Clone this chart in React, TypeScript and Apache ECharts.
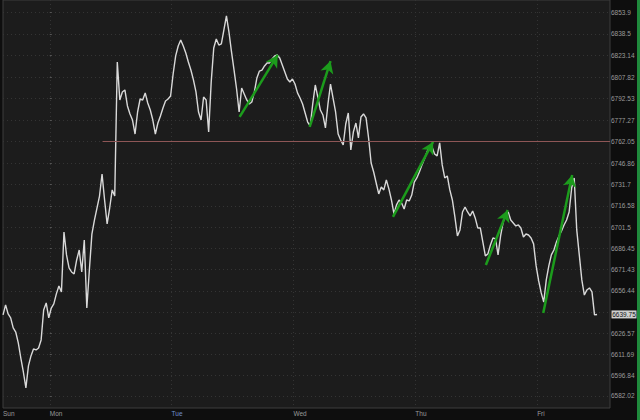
import React, { useEffect, useRef } from "react";
import * as echarts from "echarts";

// time in hours from Monday 00:00, sampled every half hour starting Sunday session open
const startHour = -9.2;
const stepHours = 0.5;
const prices = [
  6639.4, 6646.5, 6640.1, 6637.3, 6630.2, 6627.3, 6619.6, 6608.9, 6599.0, 6587.7,
  6603.3, 6610.4, 6615.3, 6614.6, 6616.0, 6621.7, 6642.9, 6647.9, 6637.3, 6644.3,
  6647.2, 6654.3, 6659.9, 6655.7, 6698.1, 6681.9, 6672.7, 6669.8, 6668.4, 6678.3,
  6685.4, 6669.8, 6692.5, 6644.3, 6671.2, 6696.7, 6706.6, 6715.1, 6723.6, 6739.2,
  6720.8, 6703.8, 6715.1, 6727.9, 6723.6, 6818.5, 6791.6, 6797.3, 6798.7, 6787.4,
  6781.7, 6777.4, 6767.5, 6783.1, 6792.3, 6791.6, 6796.6, 6789.5, 6784.5, 6777.4,
  6767.5, 6775.3, 6780.3, 6785.9, 6790.9, 6792.3, 6794.4, 6810.0, 6822.8, 6829.8,
  6834.1, 6829.8, 6824.9, 6818.5, 6812.8, 6805.8, 6797.3, 6783.1, 6777.4, 6793.7,
  6791.6, 6768.9, 6804.3, 6828.4, 6834.8, 6830.5, 6831.3, 6841.2, 6851.1, 6839.7,
  6825.6, 6812.8, 6799.4, 6783.1, 6800.1, 6795.9, 6791.6, 6788.8, 6790.2, 6797.3,
  6807.2, 6812.1, 6812.8, 6815.7, 6817.8, 6817.8, 6820.6, 6822.8, 6823.5, 6821.3,
  6816.4, 6811.4, 6806.5, 6804.3, 6806.5, 6802.9, 6796.6, 6793.0, 6788.8, 6782.4,
  6776.0, 6773.2, 6788.8, 6802.2, 6793.7, 6784.5, 6781.0, 6771.8, 6788.8, 6802.9,
  6793.0, 6783.1, 6767.5, 6763.3, 6759.7, 6774.6, 6782.4, 6756.2, 6768.9, 6775.3,
  6764.7, 6779.6, 6781.7, 6778.9, 6764.7, 6747.0, 6740.6, 6732.8, 6725.1, 6730.0,
  6727.9, 6735.0, 6728.6, 6720.8, 6710.9, 6717.3, 6720.8, 6718.7, 6714.4, 6720.8,
  6720.1, 6724.3, 6733.5, 6736.4, 6740.6, 6745.6, 6749.8, 6754.8, 6759.0, 6758.3,
  6753.4, 6752.0, 6761.2, 6745.6, 6736.4, 6737.8, 6727.9, 6720.8, 6708.8, 6695.3,
  6699.6, 6712.3, 6715.8, 6712.3, 6709.5, 6713.0, 6708.1, 6701.0, 6701.0, 6691.1,
  6681.2, 6682.6, 6688.9, 6693.9, 6693.2, 6681.9, 6695.3, 6705.2, 6709.5, 6712.3,
  6706.6, 6704.5, 6702.4, 6703.1, 6701.0, 6694.6, 6696.7, 6696.0, 6693.9, 6689.7,
  6674.1, 6663.5, 6655.0, 6648.6, 6664.2, 6674.1, 6681.9, 6685.4, 6691.1, 6695.3,
  6698.9, 6703.1, 6706.6, 6712.3, 6729.3, 6736.4, 6699.6, 6681.9, 6664.2, 6653.5,
  6657.1, 6658.5, 6655.7, 6639.4, 6639.75,
];

const yTickValues = [
  6582.02, 6596.84, 6611.69, 6626.57, 6641.5, 6656.44, 6671.43, 6686.45, 6701.5,
  6716.58, 6731.7, 6746.86, 6762.05, 6777.27, 6792.53, 6807.82, 6823.14, 6838.5, 6853.9,
];
const yTickLabels = [
  "6582.02", "6596.84", "6611.69", "6626.57", "", "6656.44", "6671.43", "6686.45", "6701.5",
  "6716.58", "6731.7", "6746.86", "6762.05", "6777.27", "6792.53", "6807.82", "6823.14", "6838.5", "6853.9",
];
const dayTicks = [-9.21, 0, 24, 48, 72, 96];
const dayLabels = ["Sun", "Mon", "Tue", "Wed", "Thu", "Fri"];

// green trend arrows: [startHour, startPrice, endHour, endPrice]
const arrows = [
  [37.4, 6779.6, 44.9, 6823.5],
  [51.2, 6772.5, 55.3, 6819.2],
  [67.6, 6708.8, 75.5, 6761.9],
  [85.9, 6674.8, 90.2, 6713.7],
  [97.2, 6640.8, 102.9, 6738.5],
];
const levelPrice = 6762.6;
const levelStartHour = 10.4;
const lastHour = startHour + (prices.length - 1) * stepHours;
const lastPrice = 6639.75;

const xMin = -9.21;
const xMax = 110.35;
const yMin = 6573.5;
const yMax = 6862.4;

export default function App() {
  const ref = useRef<HTMLDivElement>(null);
  useEffect(() => {
    if (!ref.current) return;
    const chart = echarts.init(ref.current, null, { renderer: "svg" });
    const lineData = prices.map((p, i) => [startHour + i * stepHours, p]);
    const labelFont = { fontFamily: "Liberation Sans, Arial, sans-serif", fontSize: 6.5 };
    chart.setOption({
      animation: false,
      backgroundColor: "#0e0e0e",
      grid: {
        left: 0,
        top: 0,
        right: 30,
        bottom: 12,
        show: true,
        backgroundColor: "#1c1c1c",
        borderColor: "#3c3c3c",
        borderWidth: 1,
      },
      xAxis: {
        type: "value",
        min: xMin,
        max: xMax,
        axisLine: { show: false },
        axisTick: { show: false, customValues: [0, 24, 48, 72, 96] },
        splitLine: { show: true, lineStyle: { color: "#343434", type: [1, 3], width: 1 } },
        axisLabel: {
          customValues: dayTicks,
          showMinLabel: true,
          showMaxLabel: true,
          hideOverlap: false,
          align: "left",
          margin: 2,
          color: "#9a9a9a",
          ...labelFont,
          formatter: (v: number) => {
            let best = 0;
            dayTicks.forEach((d, i) => {
              if (Math.abs(d - v) < Math.abs(dayTicks[best] - v)) best = i;
            });
            const t = dayLabels[best];
            return t === "Tue" ? "{b|Tue}" : t;
          },
          rich: { b: { color: "#6f8fd0", ...labelFont } },
        },
      },
      yAxis: {
        type: "value",
        position: "right",
        min: yMin,
        max: yMax,
        axisLine: { show: false },
        axisTick: { show: true, length: 2, customValues: yTickValues, lineStyle: { color: "#555" } },
        splitLine: { show: true, lineStyle: { color: "#343434", type: [1, 3], width: 1 } },
        axisLabel: {
          customValues: yTickValues,
          margin: 1,
          color: "#9a9a9a",
          ...labelFont,
          formatter: (v: number) => {
            let best = 0;
            yTickValues.forEach((d, i) => {
              if (Math.abs(d - v) < Math.abs(yTickValues[best] - v)) best = i;
            });
            return yTickLabels[best];
          },
        },
      },
      series: [
        {
          type: "line",
          data: lineData,
          showSymbol: false,
          symbol: "none",
          lineStyle: { color: "#d9d9d9", width: 1.4 },
          z: 3,
          markLine: {
            silent: true,
            symbol: ["none", "arrow"],
            symbolSize: [10, 12],
            label: { show: false },
            lineStyle: { color: "#1c9c1c", width: 2.5, type: "solid" },
            data: arrows.map((a) => [{ coord: [a[0], a[1]] }, { coord: [a[2], a[3]] }]),
            z: 5,
          },
        },
        {
          type: "line",
          data: [[lastHour, lastPrice]],
          showSymbol: false,
          symbol: "none",
          clip: false,
          lineStyle: { opacity: 0 },
          markLine: {
            silent: true,
            symbol: "none",
            lineStyle: { color: "#8e5656", width: 1, type: "solid" },
            label: { show: false },
            data: [[{ coord: [levelStartHour, levelPrice] }, { coord: [xMax, levelPrice] }]],
          },
          markPoint: {
            silent: true,
            data: [
              {
                coord: [xMax, lastPrice],
                symbol: "rect",
                symbolSize: [25, 8],
                symbolOffset: [14, 0],
                itemStyle: { color: "#cfcfcf" },
                label: {
                  show: true,
                  position: "inside",
                  formatter: "6639.75",
                  color: "#111",
                  ...labelFont,
                },
              },
            ],
          },
        },
      ],
      graphic: [
        { type: "rect", shape: { x: 637, y: 0, width: 3, height: 420 }, style: { fill: "#1f8a3c" }, z: 10 },
      ],
    });
    return () => chart.dispose();
  }, []);
  return (
    <div
      ref={ref}
      style={{ position: "absolute", left: 0, top: 0, width: 640, height: 420, background: "#0e0e0e" }}
    />
  );
}
